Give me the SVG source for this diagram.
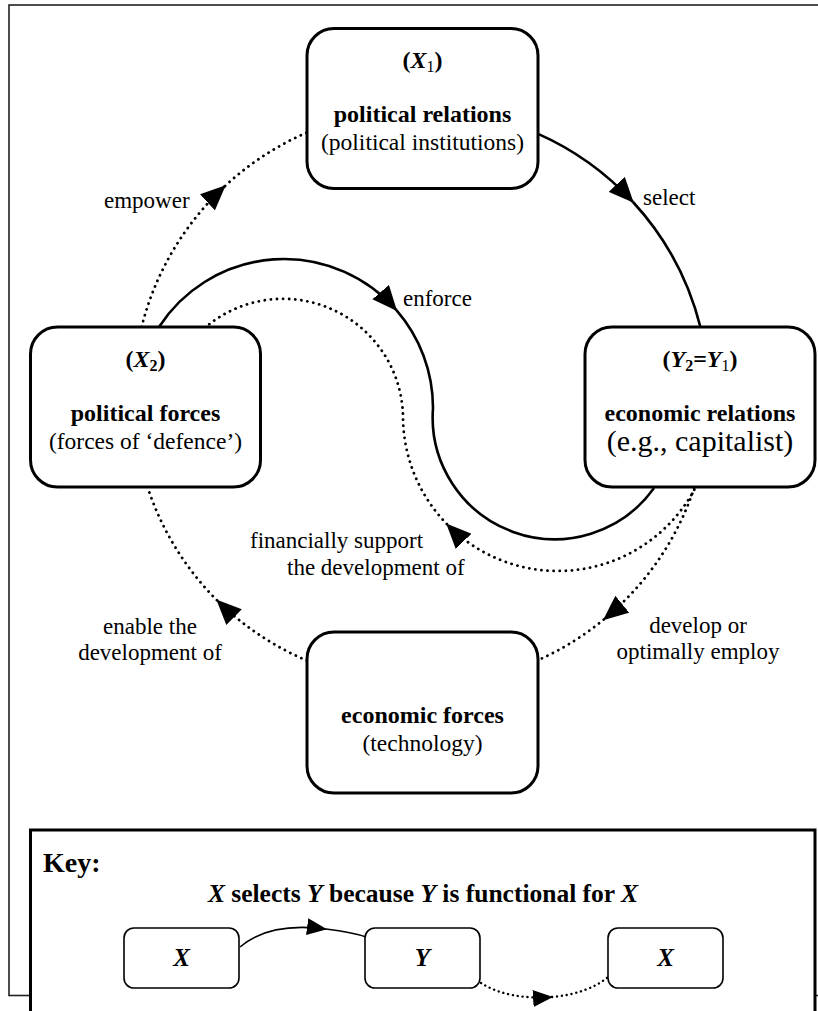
<svg xmlns="http://www.w3.org/2000/svg" width="818" height="1011" viewBox="0 0 818 1011">
<defs>
<style>
text{font-family:"Liberation Serif","Times New Roman",serif;fill:#000}
.box{fill:#fff;stroke:#000;stroke-width:3}
.kbox{fill:#fff;stroke:#000;stroke-width:1.6}
.b{font-weight:bold;font-size:24px}
.r{font-size:23.5px}
.lbl{font-size:23px}
.solid{fill:none;stroke:#000;stroke-width:2.6}
.dot{fill:none;stroke:#000;stroke-width:2.8;stroke-dasharray:0.1 6;stroke-linecap:round}
.ksolid{fill:none;stroke:#000;stroke-width:1.6}
.kdot{fill:none;stroke:#000;stroke-width:2.4;stroke-dasharray:0.1 4.8;stroke-linecap:round}
.i{font-style:italic}
.sub{font-size:16px}
</style>
<marker id="ah" markerUnits="userSpaceOnUse" viewBox="0 0 25 22" markerWidth="25" markerHeight="22" refX="24" refY="11" orient="auto"><path d="M0,0 L25,11 L0,22 z" fill="#000" stroke="none"/></marker>
<marker id="ahs" markerUnits="userSpaceOnUse" viewBox="0 0 20 17" markerWidth="20" markerHeight="17" refX="19" refY="8.5" orient="auto"><path d="M0,0 L20,8.5 L0,17 z" fill="#000" stroke="none"/></marker>
</defs>
<rect x="0" y="0" width="818" height="1011" fill="#fff"/>
<rect id="frame" x="9" y="5" width="830" height="990.5" fill="none" stroke="#222" stroke-width="1.6"/>

<g id="connectors">
  <path class="solid" marker-end="url(#ah)" d="M537,133.4 A288,288 0 0 1 633,202"/>
  <path class="solid" d="M633,202 A288,288 0 0 1 700.4,327"/>
  <path class="dot" marker-end="url(#ah)" d="M141.6,327 A288,288 0 0 1 225,186"/>
  <path class="dot" d="M225,186 A288,288 0 0 1 307,132.5"/>
  <path class="dot" marker-end="url(#ah)" d="M694.2,488 A288,288 0 0 1 603.8,619.5"/>
  <path class="dot" d="M603.8,619.5 A288,288 0 0 1 537,660.6"/>
  <path class="dot" marker-end="url(#ah)" d="M307,660.6 A288,288 0 0 1 217,600.3"/>
  <path class="dot" d="M217,600.3 A288,288 0 0 1 147.8,488"/>
  <path class="solid" marker-end="url(#ah)" d="M159,327 A149,149 0 0 1 396.4,310.2"/>
  <path class="solid" d="M396.4,310.2 A149,149 0 0 1 433,408 A122,122 0 0 0 654,488"/>
  <path class="dot" marker-end="url(#ah)" d="M694.3,489.7 A155,155 0 0 1 446.9,524.1"/>
  <path class="dot" d="M446.9,524.1 A155,155 0 0 1 403,416 A120,120 0 0 0 207,326"/>
</g>

<g id="node-political-relations">
  <rect class="box" x="307" y="28.5" width="231" height="160" rx="27"/>
  <text x="422.5" y="68" text-anchor="middle" class="b" font-size="25">(<tspan class="i">X</tspan><tspan class="sub" font-weight="normal" dy="4">1</tspan><tspan dy="-4">)</tspan></text>
  <text x="422.5" y="122" text-anchor="middle" class="b">political relations</text>
  <text x="422.5" y="150" text-anchor="middle" class="r">(political institutions)</text>
</g>
<g id="node-political-forces">
  <rect class="box" x="30.5" y="327" width="230" height="160" rx="27"/>
  <text x="145.5" y="367" text-anchor="middle" class="b">(<tspan class="i">X</tspan><tspan class="sub" dy="4">2</tspan><tspan dy="-4">)</tspan></text>
  <text x="145.5" y="421" text-anchor="middle" class="b">political forces</text>
  <text x="145.5" y="449" text-anchor="middle" class="r">(forces of ‘defence’)</text>
</g>
<g id="node-economic-relations">
  <rect class="box" x="585" y="327" width="230" height="160" rx="27"/>
  <text x="700" y="367" text-anchor="middle" class="b">(<tspan class="i">Y</tspan><tspan class="sub" dy="4">2</tspan><tspan dy="-4">=</tspan><tspan class="i">Y</tspan><tspan class="sub" font-weight="normal" dy="4">1</tspan><tspan dy="-4">)</tspan></text>
  <text x="700" y="421" text-anchor="middle" class="b">economic relations</text>
  <text x="700" y="451" text-anchor="middle" font-size="30">(e.g., capitalist)</text>
</g>
<g id="node-economic-forces">
  <rect class="box" x="307" y="632" width="231" height="161" rx="27"/>
  <text x="422.5" y="723" text-anchor="middle" class="b">economic forces</text>
  <text x="422.5" y="751" text-anchor="middle" class="r">(technology)</text>
</g>

<g id="labels">
  <text x="104" y="208" class="lbl">empower</text>
  <text x="643" y="205" class="lbl">select</text>
  <text x="403" y="306" class="lbl">enforce</text>
  <text x="250" y="548" class="lbl">financially support</text>
  <text x="287" y="575" class="lbl">the development of</text>
  <text x="150" y="634" text-anchor="middle" class="lbl">enable the</text>
  <text x="150" y="660" text-anchor="middle" class="lbl">development of</text>
  <text x="698" y="633" text-anchor="middle" class="lbl">develop or</text>
  <text x="698" y="659" text-anchor="middle" class="lbl">optimally employ</text>
</g>

<g id="key">
  <rect x="30.5" y="830" width="784.5" height="220" fill="#fff" stroke="#000" stroke-width="3"/>
  <text x="43" y="872" font-weight="bold" font-size="28">Key:</text>
  <text x="423" y="902" text-anchor="middle" font-weight="bold" font-size="25.5"><tspan class="i">X</tspan> selects <tspan class="i">Y</tspan> because <tspan class="i">Y</tspan> is functional for <tspan class="i">X</tspan></text>
  <g id="key-connectors">
    <path class="ksolid" marker-end="url(#ahs)" d="M240,947 C262,928 295,925 326,929"/>
    <path class="ksolid" d="M326,929 C342,931 355,933 366,937"/>
    <path class="kdot" marker-end="url(#ahs)" d="M481,983 C500,995 525,999 552,997"/>
    <path class="kdot" d="M552,997 C575,995 595,988 608,977"/>
  </g>
  <g id="key-x1">
    <rect class="kbox" x="124" y="928" width="115" height="60" rx="10"/>
    <text x="181.5" y="966" text-anchor="middle" font-weight="bold" font-style="italic" font-size="25">X</text>
  </g>
  <g id="key-y">
    <rect class="kbox" x="365" y="928" width="115" height="60" rx="10"/>
    <text x="422.5" y="966" text-anchor="middle" font-weight="bold" font-style="italic" font-size="25">Y</text>
  </g>
  <g id="key-x2">
    <rect class="kbox" x="608" y="928" width="115" height="60" rx="10"/>
    <text x="665.5" y="966" text-anchor="middle" font-weight="bold" font-style="italic" font-size="25">X</text>
  </g>
</g>
</svg>
